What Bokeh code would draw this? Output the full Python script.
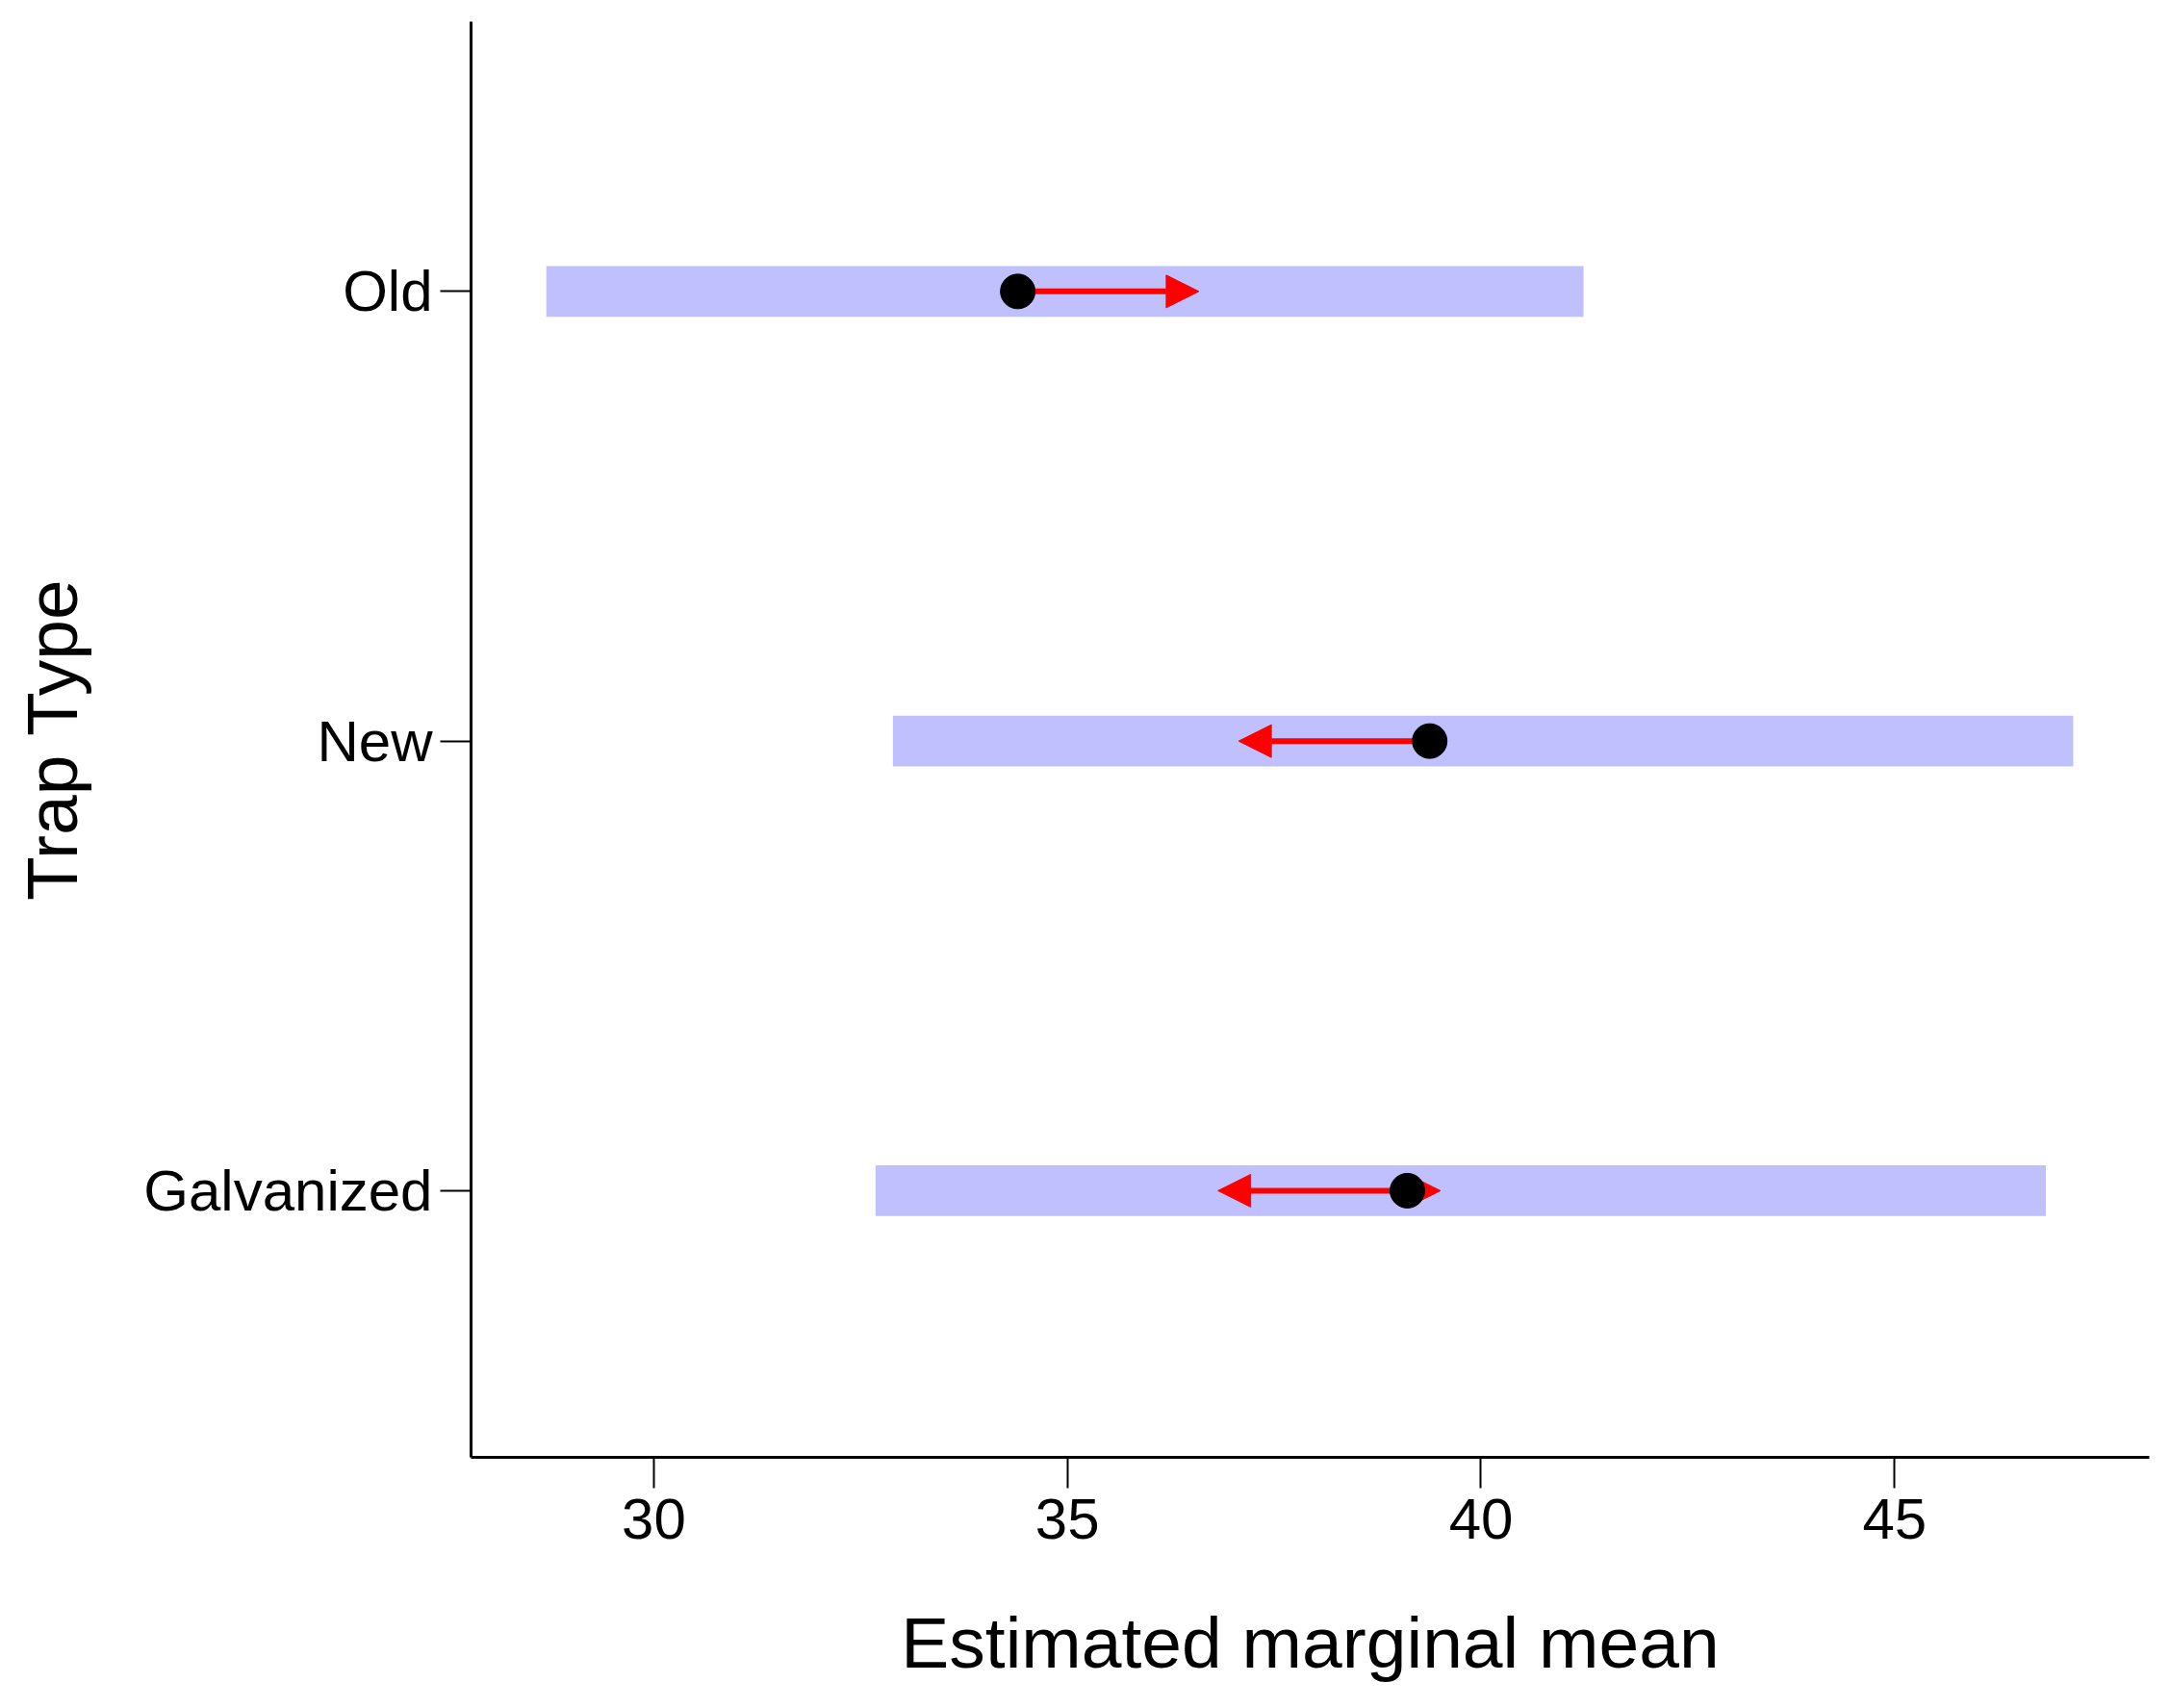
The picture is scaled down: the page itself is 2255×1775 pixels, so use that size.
from bokeh.plotting import figure
from bokeh.models import ColumnDataSource, Arrow, NormalHead, FixedTicker, Range1d
from bokeh.embed import file_html
from bokeh.resources import INLINE

# Data
trap_types = ["Galvanized", "New", "Old"]
trap_pos = [1, 2, 3]
emmean = [39.11, 39.38, 34.40]
lower_cl = [32.68, 32.89, 28.70]
upper_cl = [46.83, 47.16, 41.24]
left_arrow_end = [36.82, 37.07, None]
right_arrow_end = [39.51, None, 36.59]
x_ticks = [30, 35, 40, 45]

FONT = "Liberation Sans"

p = figure(width=2247, height=1767, output_backend="svg", toolbar_location=None,
           x_range=Range1d(27.79, 48.08), y_range=Range1d(0.407, 3.6),
           min_border_left=489, min_border_right=14, min_border_top=22, min_border_bottom=253)

p.outline_line_color = None
p.xgrid.visible = False
p.ygrid.visible = False
p.background_fill_color = "white"

bars = ColumnDataSource(dict(y=trap_pos, left=lower_cl, right=upper_cl))
r_bars = p.hbar(y="y", left="left", right="right", height=0.113, source=bars,
                fill_color="#C0C0FF", line_color=None)
r_bars.level = "image"

# arrows
la_y = [y for y, e in zip(trap_pos, left_arrow_end) if e is not None]
la_s = [m for m, e in zip(emmean, left_arrow_end) if e is not None]
la_e = [e for e in left_arrow_end if e is not None]
ra_y = [y for y, e in zip(trap_pos, right_arrow_end) if e is not None]
ra_s = [m for m, e in zip(emmean, right_arrow_end) if e is not None]
ra_e = [e for e in right_arrow_end if e is not None]

for ys, xs, xe in ((la_y, la_s, la_e), (ra_y, ra_s, ra_e)):
    src = ColumnDataSource(dict(x0=xs, x1=xe, y=ys))
    arr = Arrow(x_start="x0", x_end="x1", y_start="y", y_end="y", source=src,
                line_color="#FF0000", line_width=6,
                end=NormalHead(size=34, fill_color="#FF0000", line_color="#FF0000", line_width=1))
    arr.level = "underlay"
    p.add_layout(arr)

pts = ColumnDataSource(dict(x=emmean, y=trap_pos))
p.scatter(x="x", y="y", source=pts, size=36, fill_color="black", line_color="black")

# axes
p.xaxis.ticker = FixedTicker(ticks=x_ticks)
p.yaxis.ticker = FixedTicker(ticks=trap_pos)
p.yaxis.major_label_overrides = {pos: name for pos, name in zip(trap_pos, trap_types)}

for ax in (p.xaxis[0], p.yaxis[0]):
    ax.axis_line_width = 3
    ax.axis_line_color = "black"
    ax.major_tick_line_width = 2
    ax.major_tick_line_color = "black"
    ax.major_tick_out = 32
    ax.major_tick_in = 0
    ax.minor_tick_line_color = None
    ax.major_label_text_font = FONT
    ax.major_label_text_font_size = "60px"
    ax.major_label_text_color = "black"
    ax.axis_label_text_font = FONT
    ax.axis_label_text_font_size = "75px"
    ax.axis_label_text_font_style = "normal"
    ax.axis_label_text_color = "black"

p.xaxis.axis_label = "Estimated marginal mean"
p.yaxis.axis_label = "Trap Type"
p.xaxis.major_label_standoff = 11
p.yaxis.major_label_standoff = 8
p.xaxis.axis_label_standoff = 63
p.yaxis.axis_label_standoff = 50

open("out.html", "w").write(file_html(p, INLINE))
